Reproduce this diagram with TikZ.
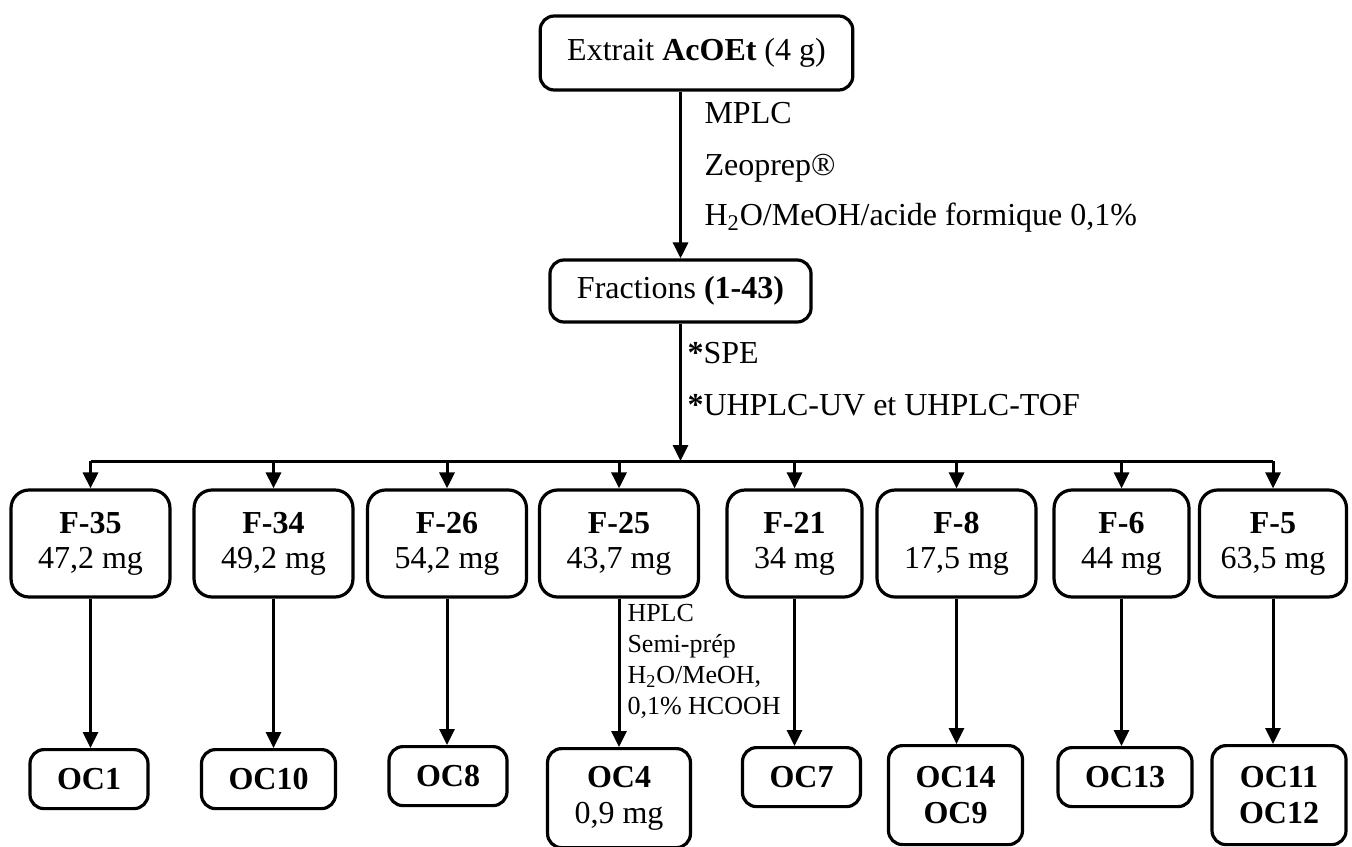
\documentclass[tikz,border=0pt]{standalone}
\usepackage{fontspec}
\setmainfont{Liberation Serif}
\usetikzlibrary{arrows.meta}

\begin{document}
\begin{tikzpicture}[x=0.5pt, y=-0.5pt, ->, >={Triangle[length=8pt,width=7.5pt]}, line width=1.5pt,
  box/.style={draw, rounded corners=7pt, line width=1.6pt, inner xsep=13.5pt, align=center,
              font=\fontsize{16}{18}\selectfont},
  frac/.style={box, rounded corners=9pt, minimum height=53.5pt,
               font=\fontsize{16}{17.5}\selectfont, execute at begin node={\rule{0pt}{14.6pt}}},
  comp/.style={box, anchor=north, minimum height=29.5pt},
  comp2/.style={comp, minimum height=49.5pt, execute at begin node={\rule{0pt}{14pt}}},
  txt/.style={anchor=base west, inner sep=0pt, font=\fontsize{16}{18}\selectfont}]
  \useasboundingbox (0,0) rectangle (1352,846);

  \node[box, minimum height=37pt] (E)  at (696.5,53)  {Extrait \textbf{AcOEt} (4 g)};
  \node[box, minimum height=31pt] (Fr) at (680.5,291) {Fractions \textbf{(1-43)}};
  \coordinate (bar) at (680.5,461);

  % conditions
  \node[txt] (mplc) at (703,123) {MPLC};
  \node[txt] (zeo)  at (703,175) {Zeoprep®};
  \node[txt] (solv) at (703,225) {H\textsubscript{2}O/MeOH/acide formique 0,1\%};
  \node[txt] (spe)  at (686,363) {\textbf{*}SPE};
  \node[txt] (uv)   at (686,415) {\textbf{*}UHPLC-UV et UHPLC-TOF};

  % fractions
  \node[frac] (F35) at (90.5,543.5)  {\textbf{F-35}\\47,2 mg};
  \node[frac] (F34) at (273.5,543.5) {\textbf{F-34}\\49,2 mg};
  \node[frac] (F26) at (447,543.5)   {\textbf{F-26}\\54,2 mg};
  \node[frac] (F25) at (619,543.5)   {\textbf{F-25}\\43,7 mg};
  \node[frac] (F21) at (794.5,543.5) {\textbf{F-21}\\34 mg};
  \node[frac] (F8)  at (956.5,543.5) {\textbf{F-8}\\17,5 mg};
  \node[frac] (F6)  at (1121.5,543.5) {\textbf{F-6}\\44 mg};
  \node[frac, inner xsep=10.5pt] (F5) at (1273,543.5) {\textbf{F-5}\\63,5 mg};

  \node[anchor=north west, inner sep=0pt, align=left, font=\fontsize{13}{15.5}\selectfont]
    (hplc) at (626,603) {HPLC\\Semi-prép\\H\textsubscript{2}O/MeOH,\\0,1\% HCOOH};

  % compounds
  \node[comp]  (O1)  at (89,748)    {\textbf{OC1}};
  \node[comp]  (O10) at (268.5,748) {\textbf{OC10}};
  \node[comp]  (O8)  at (448,745)   {\textbf{OC8}};
  \node[comp2] (O4)  at (619,747)   {\textbf{OC4}\\0,9 mg};
  \node[comp]  (O7)  at (801.5,746) {\textbf{OC7}};
  \node[comp2] (O14) at (955.5,744) {\textbf{OC14}\\\textbf{OC9}};
  \node[comp]  (O13) at (1125,746)  {\textbf{OC13}};
  \node[comp2] (O11) at (1279,744)  {\textbf{OC11}\\\textbf{OC12}};

  \path (E.south -| Fr.north) edge (Fr)
        (Fr) edge (bar);
  \draw[-] (F35.north |- bar) -- (F5.north |- bar);
  \foreach \f in {F35,F34,F26,F25,F21,F8,F6,F5}
    \path (\f.north |- bar) edge (\f);
  \foreach \f/\o in {F35/O1,F34/O10,F26/O8,F25/O4,F21/O7,F8/O14,F6/O13,F5/O11}
    \draw (\f.south) -- (\f.south |- \o.north);
\end{tikzpicture}
\end{document}
